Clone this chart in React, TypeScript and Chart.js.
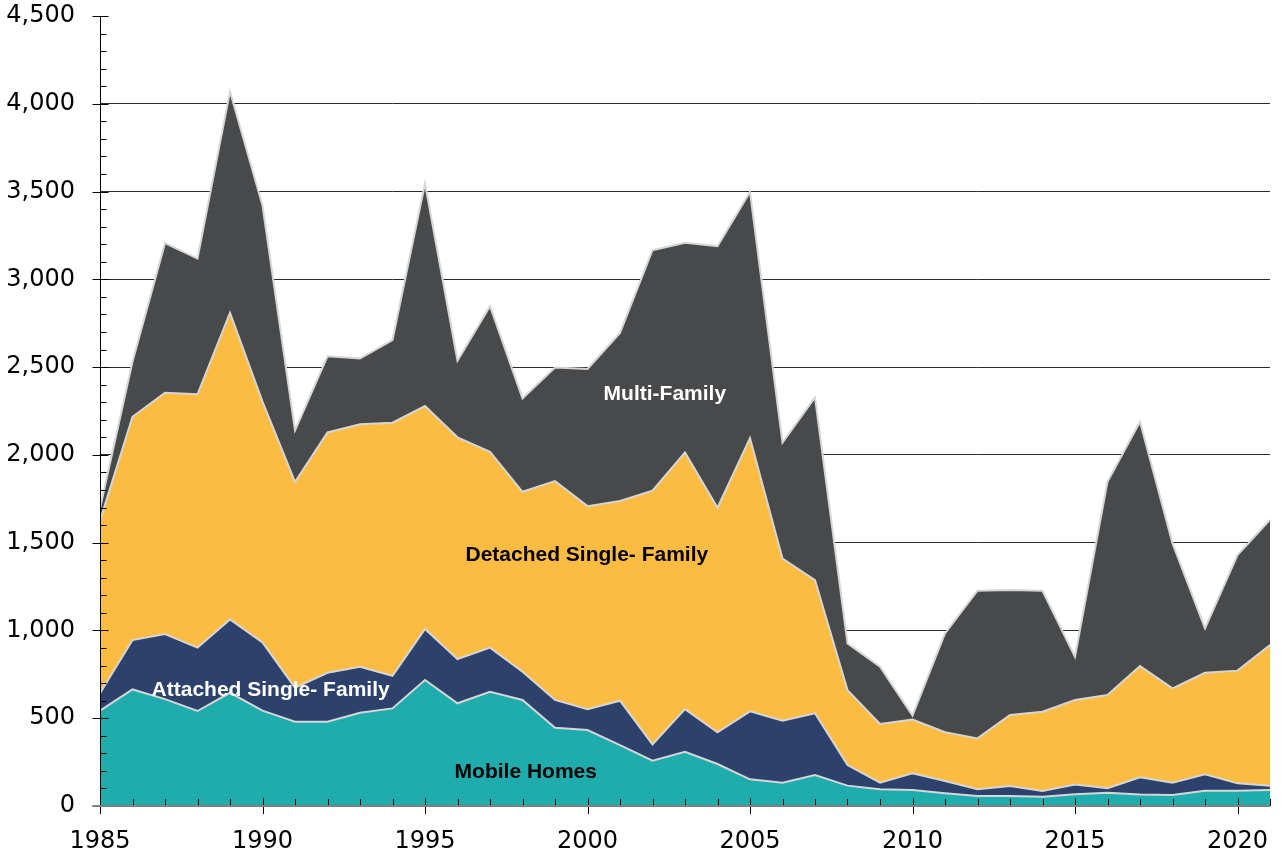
import React, { useEffect, useRef } from 'react';
import { Chart, registerables } from 'chart.js';

Chart.register(...registerables);

const years = [
  1985, 1986, 1987, 1988, 1989, 1990, 1991, 1992, 1993, 1994,
  1995, 1996, 1997, 1998, 1999, 2000, 2001, 2002, 2003, 2004,
  2005, 2006, 2007, 2008, 2009, 2010, 2011, 2012, 2013, 2014,
  2015, 2016, 2017, 2018, 2019, 2020, 2021,
];

const mobileHomes = [
  543, 664, 609, 541, 645, 543, 480, 480, 531, 556,
  718, 585, 651, 604, 446, 433, 347, 258, 309, 239,
  152, 133, 177, 116, 95, 91, 72, 57, 57, 53,
  67, 76, 65, 63, 87, 87, 91,
];

const attachedSingleFamily = [
  99, 281, 370, 361, 418, 389, 194, 279, 262, 186,
  290, 252, 251, 161, 158, 118, 253, 93, 243, 181,
  387, 353, 351, 117, 38, 95, 70, 38, 57, 32,
  56, 25, 98, 70, 93, 42, 25,
];

const detachedSingleFamily = [
  983, 1272, 1375, 1443, 1746, 1371, 1172, 1369, 1381, 1441,
  1270, 1263, 1116, 1025, 1247, 1157, 1137, 1445, 1462, 1279,
  1557, 924, 759, 427, 334, 306, 278, 290, 404, 452,
  481, 531, 634, 537, 579, 642, 801,
];

const multiFamily = [
  70, 313, 852, 773, 1261, 1117, 294, 434, 375, 471,
  1268, 436, 829, 532, 647, 781, 958, 1370, 1194, 1490,
  1402, 660, 1040, 266, 326, 23, 563, 841, 712, 689,
  246, 1215, 1392, 826, 253, 658, 714,
];

const seriesNames = ['Mobile Homes', 'Attached Single- Family', 'Detached Single- Family', 'Multi-Family'];
const seriesColors = ['#1FACAC', '#2C416B', '#FCBB41', '#48494B'];

// In-chart area labels: text, year, value (baseline), colour
const areaLabelText = ['Multi-Family', 'Detached Single- Family', 'Attached Single- Family', 'Mobile Homes'];
const areaLabelYear = [2002.38, 1999.98, 1990.25, 1998.1];
const areaLabelValue = [2312, 1395, 628, 158];
const areaLabelColor = ['#FFFFFF', '#000000', '#FFFFFF', '#000000'];

const axisPlugin = {
  id: 'axisTicks',
  afterDatasetsDraw(chart: any) {
    const { ctx, scales } = chart;
    const x = scales.x;
    const y = scales.y;
    ctx.save();
    const ax = Math.round(x.getPixelForValue(x.min)) + 0.5;
    const y0 = Math.round(y.getPixelForValue(0));
    const yTop = Math.round(y.getPixelForValue(y.max)) + 0.5;
    ctx.strokeStyle = '#000000';
    ctx.lineWidth = 1;
    ctx.beginPath();
    ctx.moveTo(ax, yTop);
    ctx.lineTo(ax, y0);
    ctx.stroke();
    for (let v = 0; v <= y.max; v += 100) {
      const py = Math.round(y.getPixelForValue(v)) + 0.5;
      ctx.beginPath();
      if (v % 500 === 0) {
        ctx.moveTo(ax - 8, py);
        ctx.lineTo(ax + 8, py);
      } else {
        ctx.moveTo(ax, py);
        ctx.lineTo(ax + 6, py);
      }
      ctx.stroke();
    }
    for (let yr = x.min; yr <= x.max; yr += 1) {
      const px = Math.round(x.getPixelForValue(yr)) + 0.5;
      ctx.beginPath();
      if (yr % 5 === 0) {
        ctx.moveTo(px, y0 - 8);
        ctx.lineTo(px, y0 + 8);
      } else {
        ctx.moveTo(px, y0 - 7);
        ctx.lineTo(px, y0);
      }
      ctx.stroke();
    }
    ctx.strokeStyle = '#7F7F7F';
    ctx.lineWidth = 2;
    ctx.beginPath();
    ctx.moveTo(ax - 8, y0);
    ctx.lineTo(Math.round(x.getPixelForValue(x.max)), y0);
    ctx.stroke();

    ctx.font = 'bold 21px "Liberation Sans", Arial, sans-serif';
    ctx.textAlign = 'center';
    ctx.textBaseline = 'alphabetic';
    for (let i = 0; i < areaLabelText.length; i++) {
      ctx.fillStyle = areaLabelColor[i];
      ctx.fillText(areaLabelText[i], x.getPixelForValue(areaLabelYear[i]), y.getPixelForValue(areaLabelValue[i]));
    }
    ctx.restore();
  },
};

export default function App() {
  const canvasRef = useRef<HTMLCanvasElement | null>(null);

  useEffect(() => {
    const canvas = canvasRef.current;
    if (!canvas) return;
    const seriesValues = [mobileHomes, attachedSingleFamily, detachedSingleFamily, multiFamily];
    const chart = new Chart(canvas, {
      type: 'line',
      data: {
        datasets: seriesValues.map((vals, i) => ({
          label: seriesNames[i],
          data: years.map((yr, j) => ({ x: yr, y: vals[j] })),
          fill: i === 0 ? 'origin' : '-1',
          backgroundColor: seriesColors[i],
          borderColor: '#D6D6D6',
          borderWidth: 2,
          pointRadius: 0,
          pointHoverRadius: 0,
          tension: 0,
        })),
      },
      options: {
        animation: false,
        responsive: false,
        maintainAspectRatio: false,
        events: [],
        layout: { padding: { left: 0, right: 11, top: 16, bottom: 0 } },
        plugins: {
          legend: { display: false },
          tooltip: { enabled: false },
        },
        scales: {
          x: {
            type: 'linear',
            min: 1985,
            max: 2021,
            grid: { display: false, drawTicks: false },
            border: { display: false },
            ticks: {
              stepSize: 1,
              autoSkip: false,
              maxRotation: 0,
              padding: 21,
              color: '#000000',
              font: { family: '"DejaVu Sans", Verdana, sans-serif', size: 24 },
              callback: (v: any) => (Number(v) % 5 === 0 ? String(v) : ''),
            },
            afterFit: (s: any) => {
              s.height = 47;
              s.paddingLeft = 0;
              s.paddingRight = 0;
            },
          },
          y: {
            type: 'linear',
            stacked: true,
            min: 0,
            max: 4500,
            grid: {
              drawTicks: false,
              lineWidth: 1,
              color: (c: any) =>
                c.tick && (c.tick.value === 0 || c.tick.value === 4500) ? 'rgba(0,0,0,0)' : '#2A2A2A',
            },
            border: { display: false },
            ticks: {
              stepSize: 500,
              padding: 25,
              color: '#000000',
              font: { family: '"DejaVu Sans", Verdana, sans-serif', size: 24 },
              callback: (v: any) => Number(v).toLocaleString('en-US'),
            },
            afterFit: (s: any) => {
              s.width = 100;
              s.paddingTop = 0;
              s.paddingBottom = 0;
            },
          },
        },
      },
      plugins: [axisPlugin],
    });
    return () => chart.destroy();
  }, []);

  return (
    <div style={{ position: 'fixed', left: 0, top: 0, width: 1281, height: 853, background: '#FFFFFF' }}>
      <canvas ref={canvasRef} width={1281} height={853} style={{ display: 'block', width: 1281, height: 853 }} />
    </div>
  );
}
